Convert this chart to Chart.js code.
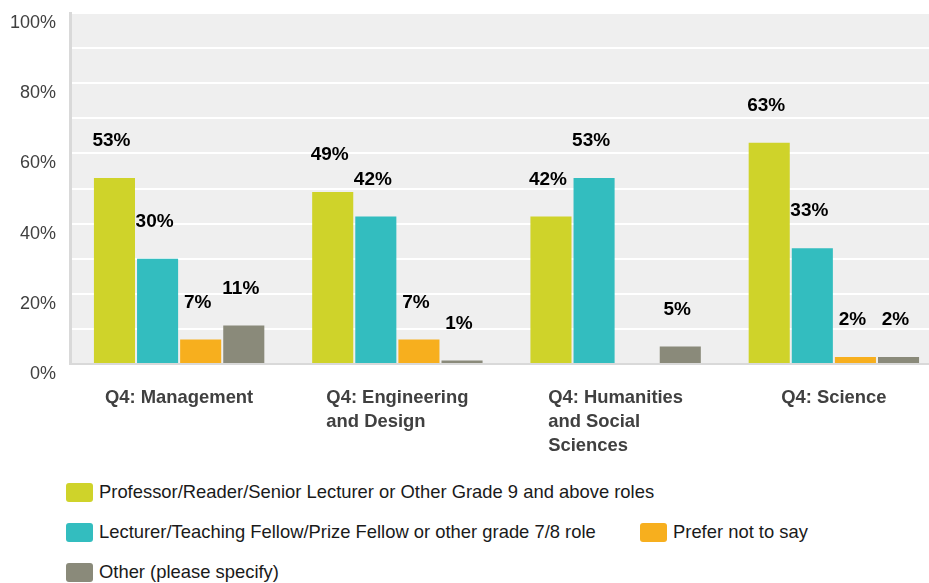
<!DOCTYPE html>
<html lang="en">
<head>
  <meta charset="UTF-8">
  <title>Q4 roles by faculty</title>
  <script src="https://cdn.jsdelivr.net/npm/chart.js"></script>
  <style>
    * {
      box-sizing: border-box;
      margin: 0;
      padding: 0;
    }

    body {
      width: 929px;
      height: 583px;
      overflow: hidden;
      background: #fff;
      font-family: 'Liberation Sans', Arial, sans-serif;
      position: relative;
    }

    .chart-wrap {
      position: absolute;
      left: 0;
      top: 0;
      width: 945px;
      height: 470px;
    }

    .legend-item {
      position: absolute;
      display: flex;
      align-items: center;
      font-size: 18.4px;
      color: #1a1a1a;
      white-space: nowrap;
      height: 20px;
    }

    .legend-item .swatch {
      width: 27px;
      height: 19px;
      border-radius: 3px;
      margin-right: 6px;
    }
  </style>
</head>
<body>
  <div class="chart-wrap">
    <canvas id="rolesChart"></canvas>
  </div>
  <div id="legend"></div>

  <script>
    const categories = [
      ['Q4: Management'],
      ['Q4: Engineering', 'and Design'],
      ['Q4: Humanities', 'and Social', 'Sciences'],
      ['Q4: Science']
    ];
    const seriesNames = [
      'Professor/Reader/Senior Lecturer or Other Grade 9 and above roles',
      'Lecturer/Teaching Fellow/Prize Fellow or other grade 7/8 role',
      'Prefer not to say',
      'Other (please specify)'
    ];
    const professorValues = [53, 49, 42, 63];
    const lecturerValues = [30, 42, 53, 33];
    const preferNotValues = [7, 7, 0, 2];
    const otherValues = [11, 1, 5, 2];
    const yTicks = [0, 20, 40, 60, 80, 100];

    const colors = ['#cfd32a', '#33bdbf', '#f7af1e', '#8a8a7a'];
    const allValues = [professorValues, lecturerValues, preferNotValues, otherValues];

    // grey plot background
    const plotBackground = {
      id: 'plotBackground',
      beforeDraw(chart) {
        const { ctx, chartArea } = chart;
        ctx.save();
        ctx.fillStyle = '#efefef';
        ctx.fillRect(chartArea.left, chartArea.top, chartArea.right - chartArea.left, chartArea.bottom - chartArea.top);
        ctx.restore();
      }
    };

    // percent labels above bars
    const valueLabels = {
      id: 'valueLabels',
      afterDatasetsDraw(chart) {
        const { ctx } = chart;
        ctx.save();
        ctx.font = 'bold 19px "Liberation Sans", Arial, sans-serif';
        ctx.fillStyle = '#000';
        ctx.textAlign = 'center';
        ctx.textBaseline = 'middle';
        chart.data.datasets.forEach((ds, di) => {
          chart.getDatasetMeta(di).data.forEach((bar, i) => {
            const v = ds.data[i];
            if (!v) return;
            ctx.fillText(v + '%', bar.x - 3, bar.y - 37);
          });
        });
        ctx.restore();
      }
    };

    // category labels: left aligned block, centred under the group
    const categoryLabels = {
      id: 'categoryLabels',
      afterDraw(chart) {
        const { ctx, chartArea } = chart;
        const x = chart.scales.x;
        ctx.save();
        ctx.font = 'bold 18.4px "Liberation Sans", Arial, sans-serif';
        ctx.fillStyle = '#404040';
        ctx.textAlign = 'left';
        ctx.textBaseline = 'middle';
        categories.forEach((lines, i) => {
          const cx = x.getPixelForTick(i);
          const w = Math.max(...lines.map(l => ctx.measureText(l).width));
          lines.forEach((line, j) => {
            ctx.fillText(line, cx - w / 2, chartArea.bottom + 34 + j * 24);
          });
        });
        ctx.restore();
      }
    };

    const ctx = document.getElementById('rolesChart').getContext('2d');
    new Chart(ctx, {
      type: 'bar',
      data: {
        labels: categories,
        datasets: seriesNames.map((name, i) => ({
          label: name,
          data: allValues[i],
          backgroundColor: colors[i],
          borderWidth: 0,
          categoryPercentage: 0.79,
          barPercentage: 0.953
        }))
      },
      options: {
        responsive: true,
        maintainAspectRatio: false,
        animation: false,
        layout: {
          padding: { left: 8, right: 2, top: 13, bottom: 98 }
        },
        plugins: {
          legend: { display: false },
          tooltip: { enabled: false }
        },
        scales: {
          x: {
            ticks: { display: false },
            grid: { display: false },
            border: { color: '#d9d9d9', width: 2 }
          },
          y: {
            min: 0,
            max: 100,
            afterFit(scale) {
              scale.width = 62;
              scale.paddingTop = 0;
              scale.paddingBottom = 0;
            },
            ticks: {
              stepSize: 10,
              padding: 14,
              labelOffset: 10,
              color: '#404040',
              font: { family: '"Liberation Sans", Arial, sans-serif', size: 18 },
              callback: v => yTicks.includes(v) ? v + '%' : ''
            },
            grid: { color: '#ffffff', lineWidth: 2, drawTicks: false },
            border: { color: '#d9d9d9', width: 3 }
          }
        }
      },
      plugins: [plotBackground, valueLabels, categoryLabels]
    });

    // legend
    const legendPos = [
      { left: 66, top: 482 },
      { left: 66, top: 522 },
      { left: 640, top: 522 },
      { left: 66, top: 562 }
    ];
    const legend = document.getElementById('legend');
    seriesNames.forEach((name, i) => {
      const item = document.createElement('div');
      item.className = 'legend-item';
      item.style.left = legendPos[i].left + 'px';
      item.style.top = legendPos[i].top + 'px';
      item.innerHTML = '<span class="swatch" style="background:' + colors[i] + '"></span>' + name;
      legend.appendChild(item);
    });
  </script>
</body>
</html>
